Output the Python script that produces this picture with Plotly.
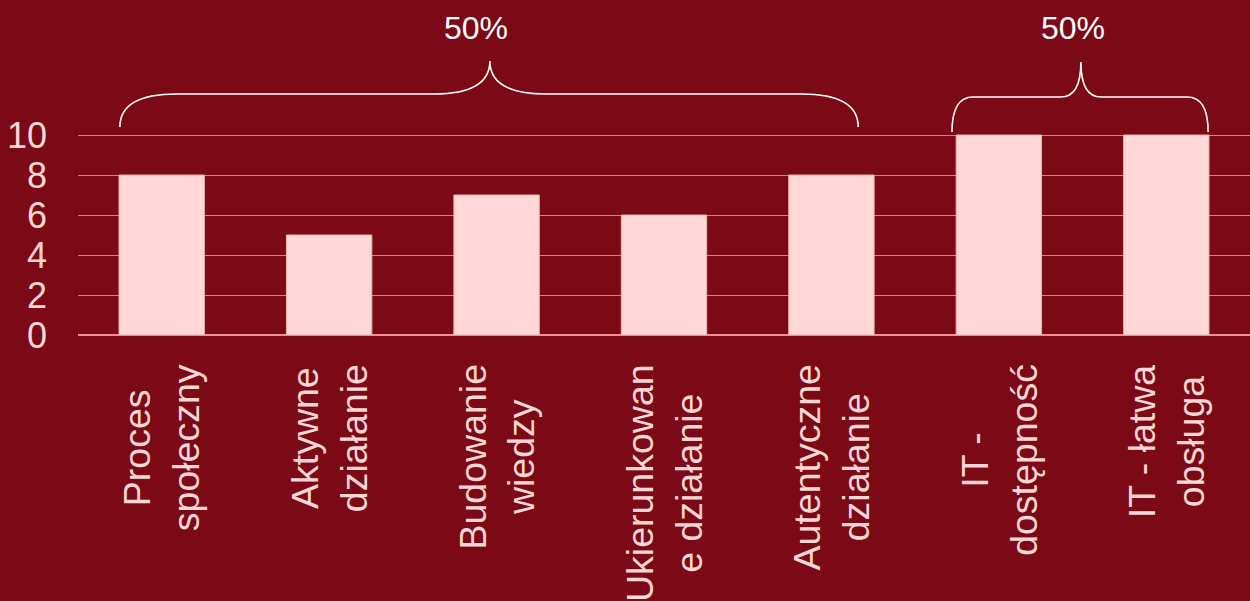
import plotly.graph_objects as go

# Criteria and their scores
categories = [
    "Proces<br>społeczny",
    "Aktywne<br>działanie",
    "Budowanie<br>wiedzy",
    "Ukierunkowan<br>e działanie",
    "Autentyczne<br>działanie",
    "IT -<br>dostępność",
    "IT - łatwa<br>obsługa",
]
scores = [8, 5, 7, 6, 8, 10, 10]
y_ticks = [0, 2, 4, 6, 8, 10]

# Criteria groups with their weight (first index, last index, label)
groups = [(0, 4, "50%"), (5, 6, "50%")]

BG = "#7b0a16"
BAR = "#ffd7d7"
GRID = "#e8787a"
LABEL = "#fbd6d6"
FONT = "Liberation Sans, Arial, sans-serif"

x = list(range(len(categories)))

fig = go.Figure(
    go.Bar(
        x=x,
        y=scores,
        marker=dict(color=BAR, line=dict(color="#eab4b4", width=1)),
        width=0.51,
        hoverinfo="skip",
    )
)

# Category labels, rotated, lines centred on each bar
for xi, label in zip(x, categories):
    fig.add_annotation(
        x=xi, y=0, xref="x", yref="paper",
        text=label, textangle=-90, showarrow=False,
        xanchor="center", yanchor="top", align="center",
        yshift=-27,
        font=dict(family=FONT, size=37.5, color=LABEL),
    )


def brace_path(x0, x1, xt, yb, yh, ytip, dx, dxt):
    return (
        f"M {x0},{yb} Q {x0},{yh} {x0 + dx},{yh} "
        f"L {xt - dxt},{yh} Q {xt},{yh} {xt},{ytip} "
        f"Q {xt},{yh} {xt + dxt},{yh} "
        f"L {x1 - dx},{yh} Q {x1},{yh} {x1},{yb}"
    )


# Curly braces over each group with its weight label
brace_specs = [
    dict(x0=-0.25, x1=4.16, xt=1.96, yb=10.4, yh=12.05, ytip=13.7, dx=0.34, dxt=0.335, lx=1.88),
    dict(x0=4.72, x1=6.25, xt=5.49, yb=10.15, yh=11.9, ytip=13.65, dx=0.125, dxt=0.12, lx=5.44),
]
for (g0, g1, text), b in zip(groups, brace_specs):
    fig.add_shape(
        type="path", xref="x", yref="y",
        path=brace_path(b["x0"], b["x1"], b["xt"], b["yb"], b["yh"], b["ytip"], b["dx"], b["dxt"]),
        line=dict(color="white", width=1.6),
    )
    fig.add_annotation(
        x=b["lx"], y=15.35, xref="x", yref="y",
        text=text, showarrow=False,
        xanchor="center", yanchor="middle",
        font=dict(family=FONT, size=32, color="white"),
    )

fig.update_layout(
    width=1250,
    height=601,
    margin=dict(l=78, r=0, t=0, b=266),
    paper_bgcolor=BG,
    plot_bgcolor=BG,
    showlegend=False,
    bargap=0.49,
    xaxis=dict(
        range=[-0.5, len(categories) - 0.5],
        showticklabels=False,
        showgrid=False,
        zeroline=False,
        showline=False,
        fixedrange=True,
    ),
    yaxis=dict(
        range=[0, 16.75],
        tickvals=y_ticks,
        ticktext=[str(v) for v in y_ticks],
        showgrid=True,
        gridcolor=GRID,
        gridwidth=1,
        zeroline=True,
        zerolinecolor="#ee9090",
        zerolinewidth=1.5,
        showline=False,
        ticks="",
        ticklabelstandoff=30,
        tickfont=dict(family=FONT, size=36, color=LABEL),
        fixedrange=True,
    ),
)

fig.write_html("out.html", config={"displayModeBar": False})
